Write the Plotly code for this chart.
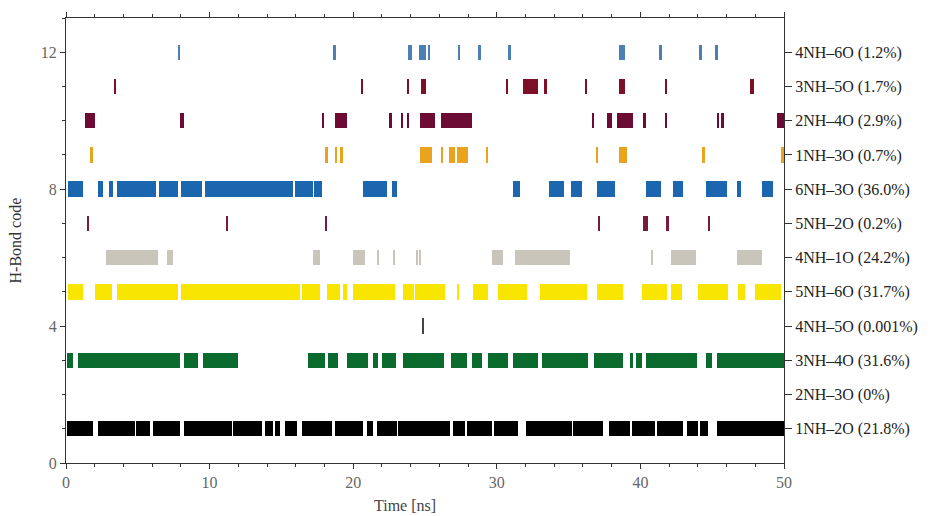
import plotly.graph_objects as go

# H-bond codes (y) and right-side labels
codes = [1, 2, 3, 4, 5, 6, 7, 8, 9, 10, 11, 12]
bond_labels = [
    "1NH–2O (21.8%)", "2NH–3O (0%)", "3NH–4O (31.6%)", "4NH–5O (0.001%)",
    "5NH–6O (31.7%)", "4NH–1O (24.2%)", "5NH–2O (0.2%)", "6NH–3O (36.0%)",
    "1NH–3O (0.7%)", "2NH–4O (2.9%)", "3NH–5O (1.7%)", "4NH–6O (1.2%)",
]
x_ticks = [0, 10, 20, 30, 40, 50]
y_ticks = [0, 4, 8, 12]

# occupancy intervals [start, end] in ns for each H-bond code
nh1_o2 = [(0.05, 1.9), (2.2, 4.8), (4.9, 5.85), (6.05, 7.95), (8.2, 11.55), (11.65, 13.65),
          (13.85, 14.4), (14.55, 14.9), (15.25, 16.1), (16.4, 18.5), (18.7, 20.7), (20.95, 21.4),
          (21.65, 23.05), (23.1, 26.75), (26.95, 27.8), (27.9, 29.65), (29.8, 31.5), (32.0, 35.25),
          (35.3, 37.4), (37.8, 39.3), (39.4, 41.0), (41.15, 43.0), (43.25, 44.0), (44.15, 44.7),
          (45.3, 50.0)]
nh2_o3 = []
nh3_o4 = [(0.05, 0.5), (0.85, 7.95), (8.2, 9.2), (9.55, 12.0), (16.85, 18.05), (18.25, 18.95),
          (19.6, 21.0), (21.4, 21.7), (22.0, 23.0), (23.5, 26.3), (26.8, 27.9), (28.3, 29.0),
          (29.4, 30.8), (31.1, 32.9), (33.15, 36.35), (36.8, 38.8), (39.3, 39.5), (39.7, 40.1),
          (40.4, 43.95), (44.6, 45.0), (45.3, 50.0)]
nh4_o5 = [(24.8, 24.92)]
nh5_o6 = [(0.15, 1.2), (2.0, 3.2), (3.55, 7.8), (8.0, 16.3), (16.4, 17.7), (18.2, 19.1),
          (19.3, 19.6), (20.0, 22.9), (23.5, 24.2), (24.3, 26.4), (27.25, 27.37), (28.35, 29.4),
          (30.1, 32.1), (33.0, 36.3), (37.0, 38.8), (40.1, 41.85), (42.1, 42.9), (44.0, 46.1),
          (46.8, 47.3), (48.0, 49.8)]
nh4_o1 = [(2.8, 6.4), (7.0, 7.45), (17.2, 17.7), (20.0, 20.8), (21.65, 21.8), (22.75, 22.9),
          (24.35, 24.5), (24.6, 24.72), (29.65, 30.4), (31.3, 35.1), (40.75, 40.87),
          (42.1, 43.9), (46.7, 48.5)]
nh5_o2 = [(1.5, 1.62), (11.15, 11.27), (18.05, 18.18), (37.05, 37.17), (40.2, 40.5),
          (41.85, 41.97), (44.75, 44.87)]
nh6_o3 = [(0.15, 1.2), (2.2, 2.6), (3.0, 3.3), (3.55, 6.3), (6.5, 7.8), (8.0, 9.5), (9.7, 15.8),
          (15.95, 17.2), (17.3, 17.8), (20.7, 22.35), (22.7, 23.05), (31.1, 31.6), (33.6, 34.7),
          (35.2, 35.9), (37.0, 38.2), (40.4, 41.4), (42.3, 43.0), (44.6, 46.0), (46.7, 47.0),
          (48.5, 49.2)]
nh1_o3 = [(1.67, 1.9), (18.1, 18.22), (18.75, 18.87), (19.15, 19.27), (24.65, 25.5),
          (26.15, 26.27), (26.7, 27.1), (27.2, 28.0), (29.25, 29.37), (36.95, 37.07),
          (38.5, 39.1), (44.35, 44.47), (49.8, 50.0)]
nh2_o4 = [(1.3, 2.0), (7.95, 8.2), (17.85, 17.97), (18.7, 19.6), (22.55, 22.67), (23.3, 23.5),
          (23.75, 23.87), (24.65, 25.7), (26.1, 28.25), (36.6, 36.8), (37.7, 38.0), (38.4, 39.5),
          (40.25, 40.37), (41.75, 41.87), (45.3, 45.45), (45.6, 45.8), (49.5, 50.0)]
nh3_o5 = [(3.35, 3.47), (20.55, 20.67), (23.75, 23.87), (24.75, 25.1), (30.65, 30.77),
          (31.8, 32.9), (33.35, 33.47), (36.15, 36.27), (38.5, 38.9), (41.75, 41.87),
          (47.6, 47.9)]
nh4_o6 = [(7.8, 7.92), (18.65, 18.77), (23.8, 24.1), (24.6, 25.1), (25.25, 25.37),
          (27.35, 27.47), (28.75, 28.87), (30.75, 31.0), (38.5, 38.9), (41.35, 41.47),
          (44.15, 44.27), (45.25, 45.37)]

series = [nh1_o2, nh2_o3, nh3_o4, nh4_o5, nh5_o6, nh4_o1,
          nh5_o2, nh6_o3, nh1_o3, nh2_o4, nh3_o5, nh4_o6]
colors = ["#000000", "#000000", "#0b6a2e", "#444444", "#f9e600", "#c9c5bb",
          "#7a1a3c", "#1b66ae", "#eaa31c", "#6c0c34", "#7c1026", "#4a80b4"]

fig = go.Figure()
for code, ivals, col in zip(codes, series, colors):
    if not ivals:
        continue
    fig.add_trace(go.Bar(
        orientation="h",
        y=[code] * len(ivals),
        base=[a for a, b in ivals],
        x=[b - a for a, b in ivals],
        width=0.45,
        marker=dict(color=col, line=dict(width=0)),
        showlegend=False,
        hoverinfo="skip",
    ))
# invisible traces for right and top axes
fig.add_trace(go.Scatter(x=[None], y=[None], yaxis="y2", showlegend=False))
fig.add_trace(go.Scatter(x=[None], y=[None], xaxis="x2", showlegend=False))

font_family = "Liberation Serif"
axis_col = "#333333"
# page body has an 8px default margin; plot area target: x 66..784, y 18..463
fig.update_layout(
    width=945, height=516,
    margin=dict(l=58, r=169, t=10, b=61, autoexpand=False),
    paper_bgcolor="white", plot_bgcolor="white",
    barmode="overlay", bargap=0,
    font=dict(family=font_family, color="#333333"),
    xaxis=dict(
        range=[0, 50], tickvals=x_ticks,
        ticks="outside", ticklen=5, tickwidth=1, tickcolor=axis_col,
        minor=dict(dtick=2, ticks="outside", ticklen=3, tickcolor=axis_col),
        showline=True, linecolor=axis_col, linewidth=1,
        showgrid=False, zeroline=False, automargin=False,
        tickfont=dict(size=16, color="#666"),
    ),
    xaxis2=dict(
        range=[0, 50], overlaying="x", side="top", tickvals=x_ticks,
        ticks="outside", ticklen=5, tickwidth=1, tickcolor=axis_col,
        minor=dict(dtick=2, ticks="outside", ticklen=3, tickcolor=axis_col),
        showline=True, linecolor=axis_col, linewidth=1, showticklabels=False,
        showgrid=False, zeroline=False, automargin=False,
    ),
    yaxis=dict(
        range=[0, 13], tickvals=y_ticks,
        ticks="outside", ticklen=5, tickwidth=1, tickcolor=axis_col,
        minor=dict(dtick=1, ticks="outside", ticklen=3, tickcolor=axis_col),
        showline=True, linecolor=axis_col, linewidth=1,
        showgrid=False, zeroline=False, automargin=False,
        tickfont=dict(size=16, color="#666"),
    ),
    yaxis2=dict(
        range=[0, 13], overlaying="y", side="right",
        tickvals=codes, ticktext=bond_labels,
        ticks="outside", ticklen=7, tickwidth=1, tickcolor=axis_col,
        showline=True, linecolor=axis_col, linewidth=1,
        showgrid=False, zeroline=False, automargin=False,
        tickfont=dict(size=16, color="#222"),
    ),
    annotations=[
        dict(text="H-Bond code", xref="paper", yref="paper", x=-51 / 718, y=0.5,
             xanchor="center", yanchor="middle", textangle=-90, showarrow=False,
             font=dict(size=16, color="#333")),
        dict(text="Time [ns]", xref="paper", yref="paper", x=(405 - 66) / 718, y=-42 / 445,
             xanchor="center", yanchor="middle", showarrow=False,
             font=dict(size=16, color="#444")),
    ],
)

fig.write_html("out.html")
